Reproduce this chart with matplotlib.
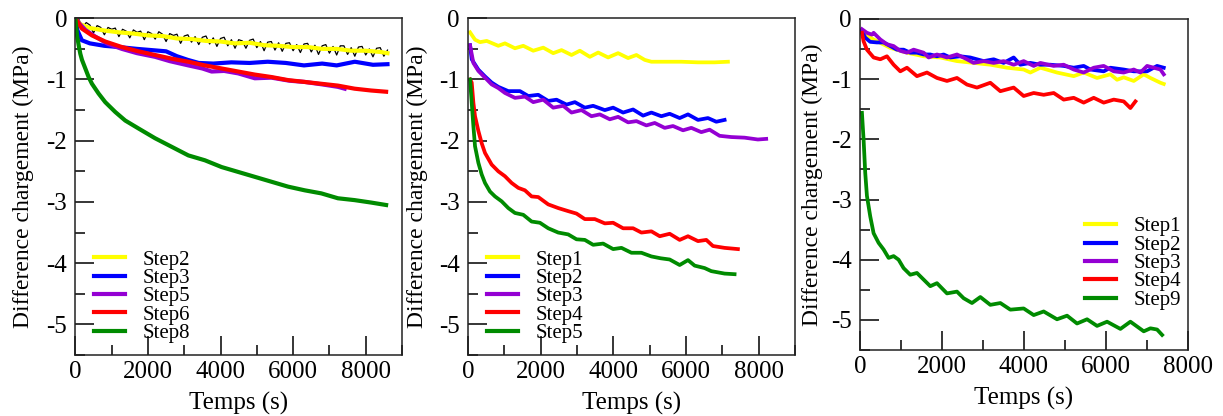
import numpy as np
import matplotlib
matplotlib.use("Agg")
import matplotlib.pyplot as plt
from matplotlib.ticker import MultipleLocator

plt.rcParams['font.family'] = ['Liberation Serif', 'DejaVu Serif']
plt.rcParams['axes.unicode_minus'] = False

YELLOW = '#ffff00'
BLUE = '#0000ff'
VIOLET = '#9400d3'
RED = '#ff0000'
GREEN = '#008b00'

# ---- panel 1 ----
p1_black_t = np.arange(0, 8700, 100)
p1_black_v = [0.00, -0.02, -0.15, -0.07, -0.11, -0.24, -0.12, -0.15, -0.27, -0.15,
              -0.18, -0.16, -0.30, -0.18, -0.21, -0.32, -0.19, -0.23, -0.21, -0.35,
              -0.22, -0.25, -0.34, -0.22, -0.26, -0.38, -0.25, -0.28, -0.26, -0.41,
              -0.29, -0.27, -0.39, -0.30, -0.43, -0.31, -0.29, -0.42, -0.32, -0.46,
              -0.33, -0.31, -0.45, -0.35, -0.49, -0.35, -0.37, -0.49, -0.36, -0.34,
              -0.48, -0.38, -0.53, -0.39, -0.38, -0.52, -0.40, -0.54, -0.41, -0.40,
              -0.53, -0.43, -0.56, -0.42, -0.41, -0.55, -0.44, -0.59, -0.45, -0.43,
              -0.57, -0.46, -0.60, -0.45, -0.45, -0.59, -0.48, -0.62, -0.47, -0.46,
              -0.60, -0.50, -0.63, -0.49, -0.48, -0.62, -0.52]

p1_step2_t = [0, 150, 400, 800, 1200, 1600, 2000, 2400, 2800, 3200, 3600, 4000,
              4400, 4800, 5200, 5600, 6000, 6400, 6800, 7200, 7600, 8000, 8400, 8600]
p1_step2_v = [-0.02, -0.10, -0.16, -0.20, -0.23, -0.25, -0.28, -0.29, -0.33, -0.34, -0.37, -0.38,
              -0.41, -0.40, -0.44, -0.45, -0.47, -0.47, -0.50, -0.50, -0.53, -0.53, -0.55, -0.57]

p1_step3_t = [0, 60, 180, 400, 800, 1200, 1700, 2100, 2500, 2800, 3100, 3400,
              3800, 4300, 4800, 5300, 5800, 6300, 6800, 7200, 7700, 8200, 8600]
p1_step3_v = [-0.02, -0.20, -0.36, -0.41, -0.45, -0.47, -0.50, -0.52, -0.54, -0.62, -0.68, -0.73,
              -0.74, -0.72, -0.73, -0.71, -0.73, -0.77, -0.74, -0.77, -0.71, -0.76, -0.75]

p1_step5_t = [0, 100, 275, 550, 900, 1282, 1700, 2198, 2600, 3114, 3500, 3755,
              4100, 4487, 4945, 5403, 5900, 6319, 6800, 7234, 7420]
p1_step5_v = [0.0, -0.08, -0.19, -0.30, -0.42, -0.50, -0.57, -0.63, -0.70, -0.77, -0.82, -0.87,
              -0.86, -0.90, -0.98, -0.97, -1.02, -1.04, -1.08, -1.12, -1.15]

p1_step6_t = [0, 183, 458, 824, 1282, 1740, 2198, 2656, 3114, 3571, 4029, 4487,
              4945, 5403, 5861, 6319, 6777, 7234, 7692, 8150, 8562]
p1_step6_v = [0.0, -0.17, -0.28, -0.38, -0.47, -0.54, -0.60, -0.66, -0.71, -0.77, -0.82, -0.87,
              -0.92, -0.96, -1.01, -1.04, -1.07, -1.10, -1.15, -1.18, -1.20]

p1_step8_t = [0, 18, 46, 92, 137, 183, 275, 366, 458, 641, 824, 1099, 1374, 1740,
              2198, 2656, 3114, 3571, 4029, 4487, 4945, 5403, 5861, 6319, 6777,
              7234, 7692, 8150, 8562]
p1_step8_v = [0.0, -0.11, -0.28, -0.44, -0.58, -0.68, -0.82, -0.96, -1.07, -1.23, -1.37, -1.53,
              -1.67, -1.80, -1.96, -2.10, -2.24, -2.32, -2.43, -2.51, -2.59, -2.67, -2.75,
              -2.81, -2.86, -2.94, -2.97, -3.01, -3.05]

# ---- panel 2 ----
p2_step1_t = [55, 192, 330, 513, 833, 1016, 1291, 1520, 1795, 2070, 2344, 2573, 2848,
              3077, 3352, 3581, 3855, 4130, 4405, 4634, 4863, 5046, 5412, 5870, 6328,
              6786, 7152]
p2_step1_v = [-0.23, -0.35, -0.39, -0.37, -0.45, -0.41, -0.49, -0.45, -0.53, -0.48, -0.57,
              -0.52, -0.60, -0.53, -0.63, -0.56, -0.64, -0.57, -0.65, -0.60, -0.68, -0.71,
              -0.71, -0.71, -0.72, -0.72, -0.71]

p2_step2_t = [55, 101, 284, 467, 650, 833, 1108, 1429, 1658, 1932, 2207, 2436, 2711,
              2940, 3214, 3443, 3764, 3993, 4267, 4542, 4817, 5046, 5320, 5549, 5824,
              6053, 6328, 6603, 6832, 7060]
p2_step2_v = [-0.44, -0.67, -0.84, -0.95, -1.05, -1.12, -1.19, -1.19, -1.27, -1.25, -1.35,
              -1.33, -1.41, -1.37, -1.46, -1.43, -1.50, -1.46, -1.54, -1.49, -1.59, -1.54,
              -1.60, -1.56, -1.63, -1.57, -1.66, -1.63, -1.69, -1.66]

p2_step3_t = [55, 147, 284, 467, 650, 833, 1016, 1291, 1566, 1795, 2070, 2344, 2619,
              2848, 3123, 3397, 3626, 3901, 4130, 4405, 4634, 4908, 5137, 5412, 5641,
              5916, 6145, 6419, 6648, 6923, 7244, 7610, 7976, 8205]
p2_step3_v = [-0.44, -0.73, -0.86, -0.97, -1.08, -1.14, -1.22, -1.30, -1.28, -1.37, -1.33,
              -1.46, -1.43, -1.54, -1.50, -1.60, -1.57, -1.65, -1.61, -1.70, -1.68, -1.75,
              -1.71, -1.79, -1.76, -1.83, -1.79, -1.86, -1.82, -1.92, -1.94, -1.95, -1.98,
              -1.97]

p2_step4_t = [55, 101, 147, 192, 284, 375, 467, 650, 833, 1016, 1200, 1383, 1566,
              1749, 1932, 2207, 2482, 2756, 2985, 3214, 3489, 3764, 3993, 4267, 4542,
              4771, 5046, 5275, 5549, 5824, 6053, 6328, 6557, 6740, 7060, 7427]
p2_step4_v = [-1.0, -1.05, -1.38, -1.60, -1.84, -2.04, -2.20, -2.39, -2.50, -2.58, -2.69,
              -2.77, -2.81, -2.91, -2.92, -3.04, -3.10, -3.15, -3.19, -3.28, -3.28, -3.35,
              -3.34, -3.43, -3.43, -3.50, -3.48, -3.56, -3.52, -3.62, -3.56, -3.64, -3.62,
              -3.72, -3.75, -3.77]

p2_step5_t = [55, 101, 147, 192, 284, 375, 467, 604, 742, 925, 1108, 1291, 1520, 1749,
              1978, 2207, 2482, 2756, 2985, 3214, 3443, 3718, 3993, 4222, 4496, 4771,
              5046, 5300, 5549, 5824, 6053, 6236, 6511, 6694, 7060, 7335]
p2_step5_v = [-1.0, -1.38, -1.76, -2.09, -2.36, -2.55, -2.69, -2.83, -2.91, -2.99, -3.10,
              -3.18, -3.21, -3.32, -3.34, -3.43, -3.50, -3.53, -3.61, -3.62, -3.70, -3.68,
              -3.77, -3.75, -3.83, -3.83, -3.89, -3.92, -3.94, -4.03, -3.95, -4.04, -4.08,
              -4.13, -4.17, -4.18]

# ---- panel 3 ----
p3_step1_t = [41, 326, 733, 1141, 1548, 1956, 2363, 2771, 3178, 3586, 3993, 4156,
              4401, 4808, 5216, 5460, 5786, 6112, 6275, 6438, 6683, 6927, 7090, 7335, 7416]
p3_step1_v = [-0.23, -0.34, -0.48, -0.56, -0.62, -0.64, -0.70, -0.73, -0.76, -0.81, -0.84,
              -0.89, -0.81, -0.89, -0.95, -0.89, -0.98, -0.92, -1.01, -0.97, -1.03, -0.92,
              -0.98, -1.06, -1.08]

p3_step2_t = [41, 122, 244, 407, 570, 733, 896, 1059, 1222, 1385, 1548, 1711, 1874,
              2037, 2200, 2444, 2689, 3015, 3260, 3504, 3749, 3912, 4156, 4401, 4645,
              4971, 5216, 5460, 5623, 5949, 6112, 6438, 6683, 7009, 7253, 7416]
p3_step2_v = [-0.20, -0.31, -0.38, -0.39, -0.39, -0.45, -0.51, -0.51, -0.56, -0.56, -0.59,
              -0.59, -0.62, -0.59, -0.64, -0.62, -0.64, -0.70, -0.67, -0.73, -0.64, -0.76,
              -0.73, -0.76, -0.76, -0.78, -0.81, -0.78, -0.84, -0.87, -0.81, -0.84, -0.87,
              -0.87, -0.78, -0.81]

p3_step3_t = [41, 163, 285, 326, 489, 652, 815, 978, 1141, 1304, 1548, 1671, 1874, 2119,
              2363, 2608, 2771, 3015, 3260, 3504, 3749, 3993, 4238, 4401, 4727, 4971,
              5216, 5460, 5705, 5949, 6194, 6438, 6683, 6846, 7009, 7335, 7416]
p3_step3_v = [-0.17, -0.23, -0.26, -0.23, -0.34, -0.42, -0.45, -0.53, -0.56, -0.51, -0.56,
              -0.64, -0.59, -0.64, -0.59, -0.67, -0.73, -0.70, -0.73, -0.70, -0.76, -0.70,
              -0.78, -0.73, -0.78, -0.76, -0.84, -0.89, -0.81, -0.78, -0.87, -0.89, -0.84,
              -0.89, -0.78, -0.84, -0.92]

p3_step4_t = [41, 81, 163, 326, 489, 652, 815, 978, 1141, 1385, 1630, 1874, 2119, 2363,
              2608, 2852, 3178, 3423, 3749, 3993, 4238, 4482, 4727, 4971, 5216, 5460,
              5705, 5949, 6194, 6438, 6601, 6724]
p3_step4_v = [-0.23, -0.37, -0.51, -0.64, -0.67, -0.62, -0.76, -0.87, -0.81, -0.95, -0.89,
              -0.98, -1.03, -0.98, -1.09, -1.14, -1.06, -1.20, -1.14, -1.28, -1.23, -1.26,
              -1.23, -1.34, -1.31, -1.39, -1.31, -1.39, -1.34, -1.37, -1.48, -1.37]

p3_step9_t = [41, 81, 122, 163, 244, 326, 448, 570, 693, 815, 937, 1059, 1222, 1385,
              1548, 1711, 1874, 2119, 2363, 2526, 2730, 2934, 3178, 3423, 3667, 3993,
              4238, 4482, 4808, 5053, 5297, 5542, 5786, 6031, 6357, 6601, 6927, 7090,
              7253, 7376]
p3_step9_v = [-1.56, -2.00, -2.56, -2.94, -3.28, -3.56, -3.72, -3.83, -3.97, -3.94, -4.00,
              -4.14, -4.25, -4.22, -4.33, -4.44, -4.39, -4.56, -4.53, -4.64, -4.72, -4.62,
              -4.75, -4.72, -4.83, -4.81, -4.92, -4.86, -4.99, -4.93, -5.06, -4.99, -5.10,
              -5.03, -5.15, -5.03, -5.19, -5.14, -5.16, -5.25]

fig = plt.figure(figsize=(12.23, 4.16), dpi=100)
ax1 = fig.add_axes([0.0616, 0.1466, 0.2671, 0.8095])
ax2 = fig.add_axes([0.3827, 0.1466, 0.2674, 0.8095])
ax3 = fig.add_axes([0.7034, 0.1587, 0.2677, 0.7957])


def style_axes(ax, xmax, ylab_x, xlab_y):
    ax.set_xlim(0, xmax)
    ax.set_ylim(-5.5, 0)
    ax.xaxis.set_major_locator(MultipleLocator(2000))
    ax.xaxis.set_minor_locator(MultipleLocator(1000))
    ax.yaxis.set_minor_locator(MultipleLocator(0.5))
    ax.set_yticks([0, -1, -2, -3, -4, -5])
    ax.set_yticklabels(['0', '-1', '-2', '-3', '-4', '-5'])
    ax.tick_params(which='both', direction='in', top=False, right=False, width=1.1, labelsize=18)
    ax.tick_params(axis='x', which='both', pad=4)
    ax.tick_params(axis='y', which='both', pad=6)
    ax.tick_params(which='major', length=13.5)
    ax.tick_params(which='minor', length=7)
    for sp in ax.spines.values():
        sp.set_linewidth(1.1)
        sp.set_color('#222222')
    ax.set_xlabel('Temps (s)', fontsize=18)
    ax.set_ylabel('Difference chargement (MPa)', fontsize=17)
    ax.yaxis.set_label_coords(ylab_x, 0.5)
    ax.xaxis.set_label_coords(0.5, xlab_y)


def add_legend(ax, x, y):
    leg = ax.legend(loc='upper left', bbox_to_anchor=(x, y), frameon=False, fontsize=15,
                    handlelength=1.5, handletextpad=0.85, labelspacing=-0.06,
                    borderpad=0, borderaxespad=0)
    for h in leg.get_lines():
        h.set_linewidth(3)


lw = 2.7
# panel 1
ax1.plot(p1_black_t, p1_black_v, color='black', lw=0.9)
ax1.plot(p1_step2_t, p1_step2_v, color=YELLOW, lw=3, label='Step2')
ax1.plot(p1_step3_t, p1_step3_v, color=BLUE, lw=3, label='Step3')
ax1.plot(p1_step5_t, p1_step5_v, color=VIOLET, lw=3, label='Step5')
ax1.plot(p1_step6_t, p1_step6_v, color=RED, lw=3, label='Step6')
ax1.plot(p1_step8_t, p1_step8_v, color=GREEN, lw=3, label='Step8')
style_axes(ax1, 9000, -0.126, -0.11)
add_legend(ax1, 0.057, 0.312)

# panel 2
ax2.plot(p2_step1_t, p2_step1_v, color=YELLOW, lw=lw, label='Step1')
ax2.plot(p2_step2_t, p2_step2_v, color=BLUE, lw=lw, label='Step2')
ax2.plot(p2_step3_t, p2_step3_v, color=VIOLET, lw=lw, label='Step3')
ax2.plot(p2_step4_t, p2_step4_v, color=RED, lw=lw, label='Step4')
ax2.plot(p2_step5_t, p2_step5_v, color=GREEN, lw=lw, label='Step5')
style_axes(ax2, 9000, -0.122, -0.11)
add_legend(ax2, 0.058, 0.312)

# panel 3
ax3.plot(p3_step1_t, p3_step1_v, color=YELLOW, lw=lw, label='Step1')
ax3.plot(p3_step2_t, p3_step2_v, color=BLUE, lw=lw, label='Step2')
ax3.plot(p3_step3_t, p3_step3_v, color=VIOLET, lw=lw, label='Step3')
ax3.plot(p3_step4_t, p3_step4_v, color=RED, lw=lw, label='Step4')
ax3.plot(p3_step9_t, p3_step9_v, color=GREEN, lw=lw, label='Step9')
style_axes(ax3, 8000, -0.114, -0.111)
add_legend(ax3, 0.686, 0.402)

fig.savefig('out.png', dpi=100)
